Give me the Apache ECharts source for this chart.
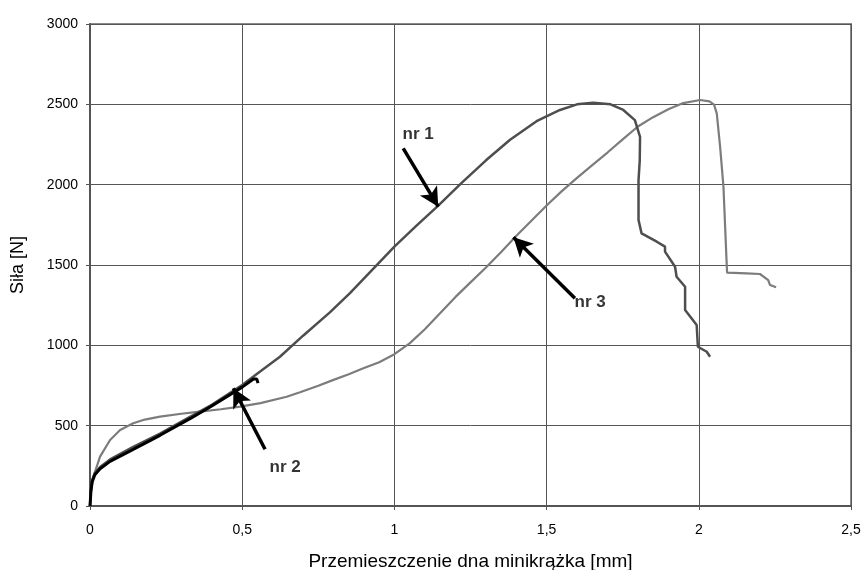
<!DOCTYPE html>
<html>
<head>
<meta charset="utf-8">
<script src="https://cdn.jsdelivr.net/npm/echarts@6/dist/echarts.min.js"></script>
<style>
  html, body { margin: 0; padding: 0; background: #fff; }
  #chart { width: 864px; height: 570px; }
</style>
</head>
<body>
<div id="chart"></div>
<script>
// krzywe siła-przemieszczenie [mm, N]
const nr1 = [
  [0, 0], [0.003, 100], [0.007, 160], [0.016, 205], [0.033, 243], [0.066, 290],
  [0.142, 368], [0.23, 450], [0.33, 556], [0.4, 630], [0.5, 753], [0.56, 838],
  [0.624, 929], [0.7, 1060], [0.788, 1205], [0.854, 1325], [0.92, 1455],
  [1.0, 1614], [1.07, 1740], [1.144, 1870], [1.22, 2010], [1.3, 2150],
  [1.38, 2280], [1.467, 2395], [1.544, 2465], [1.6, 2500], [1.653, 2510],
  [1.71, 2500], [1.752, 2465], [1.79, 2402], [1.807, 2298], [1.806, 2150],
  [1.802, 2029], [1.802, 1780], [1.812, 1697], [1.862, 1645], [1.889, 1614],
  [1.889, 1583], [1.922, 1489], [1.927, 1427], [1.955, 1365], [1.955, 1220],
  [1.993, 1126], [1.997, 991], [2.026, 960], [2.037, 929]
];
const nr2 = [
  [0, 0], [0.003, 90], [0.007, 150], [0.016, 195], [0.033, 232], [0.066, 278],
  [0.142, 352], [0.23, 440], [0.33, 545], [0.4, 622], [0.5, 740], [0.537, 790],
  [0.548, 790], [0.552, 765]
];
const nr3 = [
  [0, 0], [0.003, 90], [0.011, 182], [0.033, 307], [0.066, 411], [0.099, 473],
  [0.142, 515], [0.18, 538], [0.23, 556], [0.3, 574], [0.361, 587], [0.43, 602],
  [0.493, 618], [0.56, 640], [0.646, 680], [0.69, 708], [0.75, 748], [0.8, 785],
  [0.85, 820], [0.898, 857], [0.95, 895], [1.0, 945], [1.05, 1012], [1.1, 1100],
  [1.15, 1200], [1.2, 1300], [1.25, 1392], [1.3, 1483], [1.35, 1580], [1.4, 1680],
  [1.45, 1775], [1.5, 1870], [1.55, 1960], [1.6, 2042], [1.65, 2122],
  [1.7, 2200], [1.75, 2282], [1.8, 2362], [1.85, 2420], [1.9, 2470],
  [1.949, 2508], [2.004, 2527], [2.035, 2518], [2.05, 2498],
  [2.059, 2444], [2.07, 2236], [2.081, 1987], [2.092, 1489], [2.093, 1452],
  [2.157, 1448], [2.201, 1444], [2.228, 1406], [2.234, 1375], [2.254, 1361]
];

// strzałki: [start, grot] i podpisy
const arrows = [
  [[1.029, 2226], [1.144, 1863]],
  [[1.593, 1293], [1.391, 1672]],
  [[0.575, 353], [0.471, 733]]
];
const labels = [
  [1.078, 2316, 'nr 1'],
  [1.643, 1270, 'nr 3'],
  [0.641, 243, 'nr 2']
];

const myChart = echarts.init(document.getElementById('chart'));

const option = {
  animation: false,
  grid: {
    left: 90, right: 13, top: 24, bottom: 64,
    outerBoundsMode: 'none',
    containLabel: false,
    show: true, borderColor: '#8a8a8a', borderWidth: 2
  },
  xAxis: {
    type: 'value', min: 0, max: 2.5, interval: 0.5,
    name: 'Przemieszczenie dna minikrążka [mm]',
    nameLocation: 'middle', nameGap: 46,
    nameTextStyle: { fontFamily: 'Liberation Sans', fontSize: 19, color: '#000' },
    axisLine: { lineStyle: { color: '#555', width: 2 } },
    axisTick: { show: true, length: 4, lineStyle: { color: '#555' } },
    axisLabel: {
      margin: 17, fontFamily: 'Liberation Sans', fontSize: 14, color: '#000',
      formatter: v => String(v).replace('.', ',')
    },
    splitLine: { lineStyle: { color: '#555', width: 1 } }
  },
  yAxis: {
    type: 'value', min: 0, max: 3000, interval: 500,
    name: 'Siła [N]',
    nameLocation: 'middle', nameGap: 63, nameRotate: 90,
    nameTextStyle: { fontFamily: 'Liberation Sans', fontSize: 18, color: '#000' },
    axisLine: { show: true, lineStyle: { color: '#555', width: 2 } },
    axisTick: { show: true, length: 4, lineStyle: { color: '#555' } },
    axisLabel: {
      margin: 12, fontFamily: 'Liberation Sans', fontSize: 14, color: '#000',
      formatter: v => String(v)
    },
    splitLine: { lineStyle: { color: '#555', width: 1 } }
  },
  series: [
    {
      name: 'nr 3', type: 'line', data: nr3, showSymbol: false,
      lineStyle: { color: '#7c7c7c', width: 2.2 }
    },
    {
      name: 'nr 1', type: 'line', data: nr1, showSymbol: false,
      lineStyle: { color: '#4e4e4e', width: 2.5 }
    },
    {
      name: 'nr 2', type: 'line', data: nr2, showSymbol: false,
      lineStyle: { color: '#000', width: 3 }
    },
    {
      name: 'strzalki', type: 'line', data: [], silent: true,
      markLine: {
        silent: true,
        symbol: ['none', 'arrow'],
        symbolSize: [15, 19],
        label: { show: false },
        lineStyle: { color: '#000', width: 3.5, type: 'solid' },
        data: arrows.map(a => [{ coord: a[0] }, { coord: a[1] }])
      }
    },
    {
      name: 'podpisy', type: 'scatter', data: labels, symbolSize: 0, silent: true,
      label: {
        show: true, position: 'inside',
        formatter: p => p.value[2],
        fontFamily: 'Liberation Sans', fontWeight: 'bold', fontSize: 17, color: '#000'
      }
    }
  ]
};

myChart.setOption(option, true);
</script>
</body>
</html>
